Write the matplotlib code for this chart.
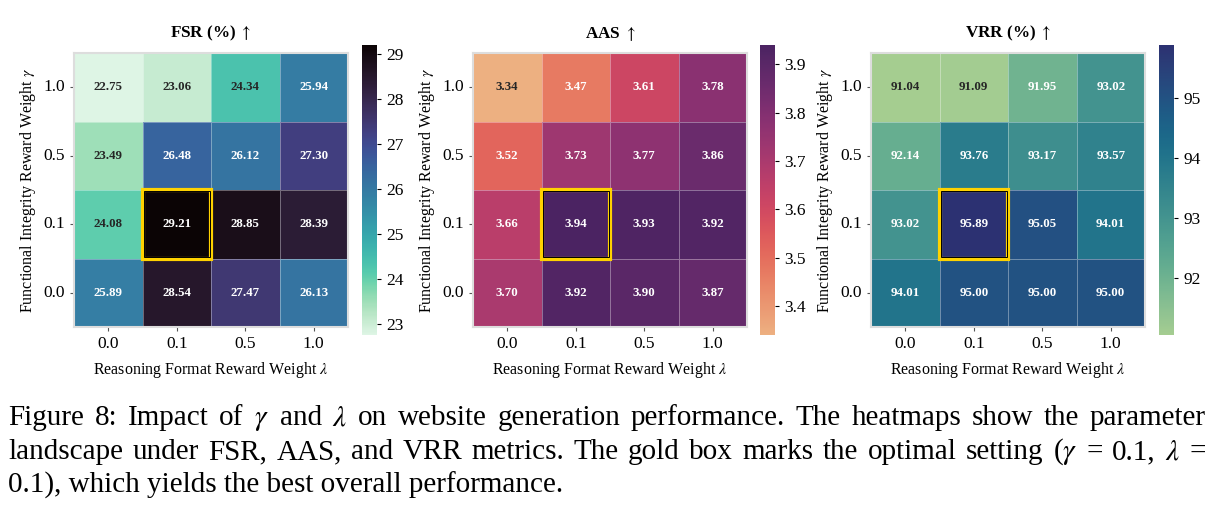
import numpy as np
import matplotlib.pyplot as plt
import matplotlib.patches as patches
import seaborn as sns

plt.rcParams['font.family'] = ['Liberation Serif', 'DejaVu Serif']
plt.rcParams['mathtext.fontset'] = 'stix'

# data: rows are gamma (top to bottom), columns are lambda
gamma_labels = ['1.0', '0.5', '0.1', '0.0']
lambda_labels = ['0.0', '0.1', '0.5', '1.0']

fsr = np.array([[22.75, 23.06, 24.34, 25.94],
                [23.49, 26.48, 26.12, 27.30],
                [24.08, 29.21, 28.85, 28.39],
                [25.89, 28.54, 27.47, 26.13]])
aas = np.array([[3.34, 3.47, 3.61, 3.78],
                [3.52, 3.73, 3.77, 3.86],
                [3.66, 3.94, 3.93, 3.92],
                [3.70, 3.92, 3.90, 3.87]])
vrr = np.array([[91.04, 91.09, 91.95, 93.02],
                [92.14, 93.76, 93.17, 93.57],
                [93.02, 95.89, 95.05, 94.01],
                [94.01, 95.00, 95.00, 95.00]])

titles = [r'FSR (%) $\uparrow$', r'AAS $\uparrow$', r'VRR (%) $\uparrow$']
cmaps = ['mako_r', 'flare', 'crest']
best = (2, 1)  # row, col of gamma=0.1, lambda=0.1

W, H = 1221, 514
fig = plt.figure(figsize=(W / 100, H / 100), dpi=100)

hm_left = [74, 473, 871]
cb_left = [362, 760, 1159]

for i, (data, title, cmap) in enumerate(zip([fsr, aas, vrr], titles, cmaps)):
    ax = fig.add_axes([hm_left[i] / W, (H - 327) / H, 274 / W, 274 / H])
    cax = fig.add_axes([cb_left[i] / W, (H - 335) / H, 15 / W, 290 / H])
    sns.heatmap(data, ax=ax, cbar_ax=cax, cmap=cmap, annot=True, fmt='.2f',
                annot_kws={'fontsize': 9.3, 'fontweight': 'bold'},
                linewidths=0.6, linecolor=(1, 1, 1, 0.35),
                xticklabels=lambda_labels, yticklabels=gamma_labels)
    for s in ax.spines.values():
        s.set_visible(True)
        s.set_color('#dddddd')
        s.set_linewidth(1.5)
    ax.set_title(title, fontsize=12.3, fontweight='bold', pad=11)
    ax.set_xlabel(r'Reasoning Format Reward Weight $\lambda$', fontsize=11.5, labelpad=6)
    ax.set_ylabel(r'Functional Integrity Reward Weight $\gamma$', fontsize=11.5, labelpad=4)
    ax.tick_params(axis='both', labelsize=12.5, length=3, color='#555555')
    ax.set_yticklabels(gamma_labels, rotation=0)
    cax.tick_params(labelsize=12.5, length=3)
    # gold box around the best setting
    r, c = best
    ax.add_patch(patches.Rectangle((c, r), 1, 1, fill=False, edgecolor='#ffd200',
                                   linewidth=3.0, clip_on=False, zorder=5))
    ax.add_patch(patches.Rectangle((c + 0.018, r + 0.018), 0.964, 0.964, fill=False,
                                   edgecolor='black', linewidth=0.7, clip_on=False, zorder=6))

caption = [
    r'Figure 8: Impact of $\gamma$ and $\lambda$ on website generation performance. The heatmaps show the parameter',
    r'landscape under FSR, AAS, and VRR metrics. The gold box marks the optimal setting ($\gamma$ = 0.1, $\lambda$ =',
    r'0.1), which yields the best overall performance.',
]
baselines = [425, 459, 493]
x0, x1 = 8, 1206
fs = 21
renderer = fig.canvas.get_renderer()
for k, (line, yb) in enumerate(zip(caption, baselines)):
    y = (H - yb) / H
    if k == len(caption) - 1:
        fig.text(x0 / W, y, line, fontsize=fs, ha='left', va='baseline')
        continue
    # justified line: place words one by one
    words = line.split(' ')
    texts = [fig.text(0, y, w, fontsize=fs, ha='left', va='baseline') for w in words]
    widths = [t.get_window_extent(renderer).width for t in texts]
    gap = (x1 - x0 - sum(widths)) / (len(words) - 1)
    x = x0
    for t, w in zip(texts, widths):
        t.set_x(x / W)
        x += w + gap

fig.savefig('out.png', dpi=100)
